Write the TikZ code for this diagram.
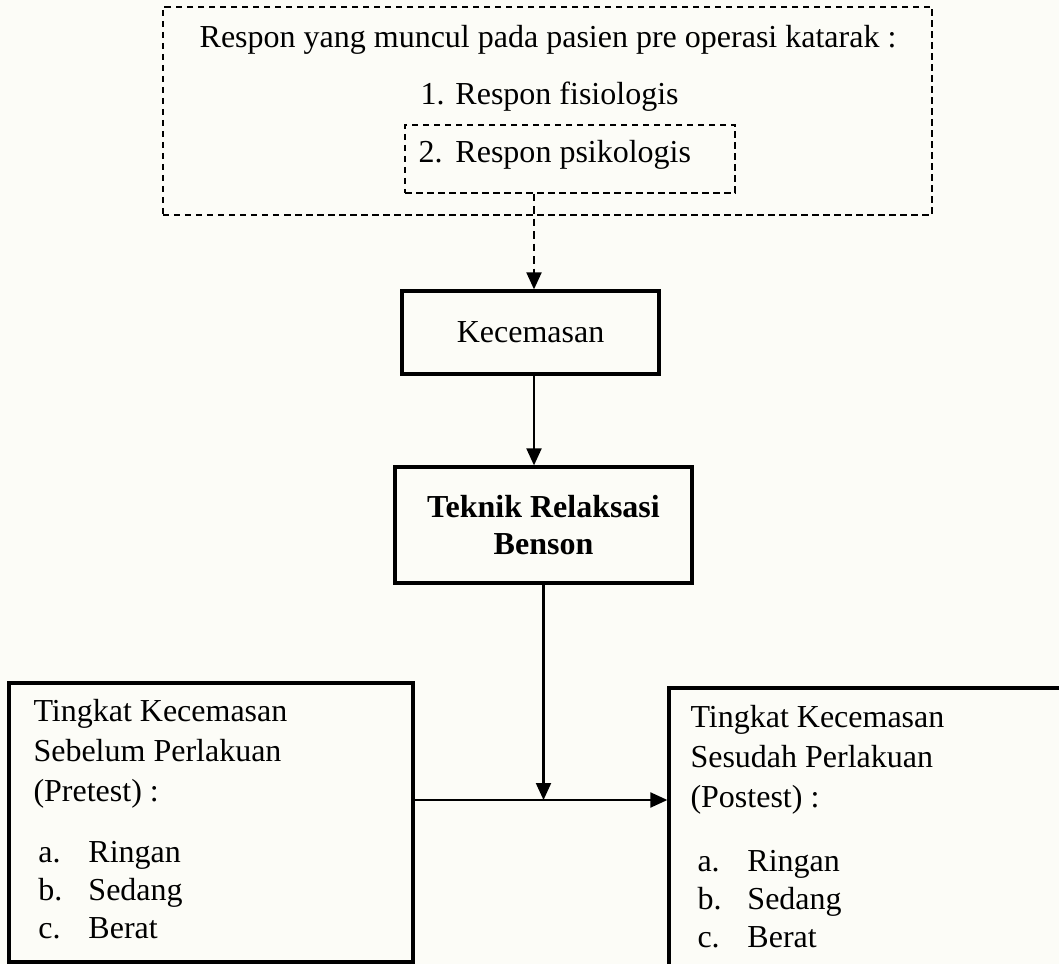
\documentclass[tikz,border=0pt]{standalone}
\usepackage{fontspec}
\setmainfont{Liberation Serif}
\usetikzlibrary{positioning,arrows.meta}
\definecolor{paper}{RGB}{252,252,247}
\tikzset{thickbox/.style={rectangle, draw=black, line width=1.3pt, inner sep=0pt, text centered, text=black},
       dashbox/.style={rectangle, draw=black, line width=0.6pt, dash pattern=on 2.6pt off 1.8pt, inner sep=0pt},
       txt/.style={inner sep=0pt, anchor=base west, text=black},
       conn/.style={line width=0.85pt, -{Triangle[length=6.8pt,width=6pt]}}}
\newcommand{\lbl}[2]{\makebox[#1][l]{#2}}

\begin{document}
\begin{tikzpicture}[x=0.4pt, y=-0.4pt, font=\fontsize{12.8}{14.8}\selectfont]
\fill[paper] (0,0) rectangle (1059,964);
\useasboundingbox (0,0) rectangle (1059,964);
\node[dashbox, minimum width=307.6pt, minimum height=83.2pt] (respon) at (547.5,111) {};
\node[dashbox, minimum width=132pt, minimum height=27.2pt] (psiko) at (570,159) {};
\node[txt, anchor=base] (judul) at (548,48) {Respon yang muncul pada pasien pre operasi katarak :};
\node[txt] (r1) at (420,105) {\lbl{14pt}{1.}Respon fisiologis};
\node[txt] (r2) at (418,163) {\lbl{14.8pt}{2.}Respon psikologis};
\node[thickbox, minimum width=102.8pt, minimum height=33.2pt] (kecem) at (530.5,332.5) {Kecemasan};
\node[thickbox, minimum width=118.8pt, minimum height=46.4pt, align=center, font=\fontsize{12.8}{14.8}\selectfont\bfseries] (teknik) at (543.5,525) {Teknik Relaksasi\\Benson};
\node[thickbox, minimum width=161.6pt, minimum height=111.6pt] (pre) at (211,822.5) {};
\node[thickbox, minimum width=164.4pt, minimum height=120.8pt] (post) at (874.5,839) {};
% isi kotak pretest / postest
\foreach \t [count=\i] in {Tingkat Kecemasan, Sebelum Perlakuan, {(Pretest) :}}
  \node[txt] (pre-h\i) at (33,681+40*\i) {\t};
\foreach \l/\t [count=\i] in {a./Ringan, b./Sedang, c./Berat}
  \node[txt] (pre-k\i) at (38,824+38*\i) {\lbl{20pt}{\l}\t};
\foreach \t [count=\i] in {Tingkat Kecemasan, Sesudah Perlakuan, {(Postest) :}}
  \node[txt] (post-h\i) at (690,687+40*\i) {\t};
\foreach \l/\t [count=\i] in {a./Ringan, b./Sedang, c./Berat}
  \node[txt] (post-k\i) at (697,833+38*\i) {\lbl{20pt}{\l}\t};
\coordinate (temu) at (543.5,800);
\draw[conn, dash pattern=on 3pt off 2pt] ([xshift=1.4pt]kecem.north |- psiko.south) -- ([xshift=1.4pt]kecem.north);
\draw[conn] ([xshift=1.4pt]kecem.south) -- ([xshift=1.4pt]kecem.south |- teknik.north);
\draw[conn] (teknik.south) -- (temu);
\draw[conn] (pre.east |- temu) -- (post.west |- temu);
\end{tikzpicture}
\end{document}
